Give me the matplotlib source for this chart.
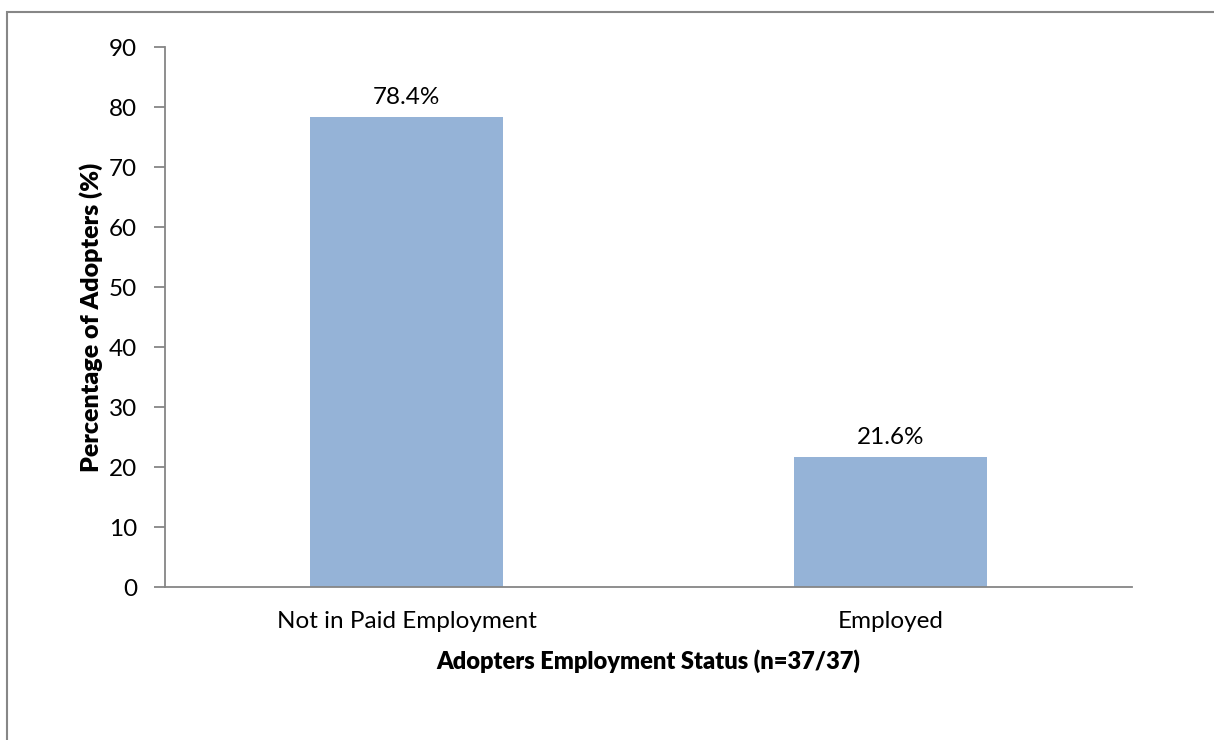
import matplotlib
matplotlib.use("Agg")
import matplotlib.pyplot as plt
from matplotlib.patches import Rectangle

categories = ["Not in Paid Employment", "Employed"]
percentages = [78.4, 21.6]
y_ticks = [0, 10, 20, 30, 40, 50, 60, 70, 80, 90]

plt.rcParams['font.family'] = ['Lato', 'DejaVu Sans']

fig = plt.figure(figsize=(12.14, 7.40), dpi=100)
fig.patch.set_facecolor('white')

# outer chart-area border
fig.patches.append(Rectangle((7 / 1214, -0.01), 1.05, 1 - 12 / 740 + 0.01,
                             transform=fig.transFigure, fill=False,
                             edgecolor='#878787', linewidth=1.5))

ax = fig.add_axes([165 / 1214, 1 - 587 / 740, (1132 - 165) / 1214, (587 - 47) / 740])

x = range(len(categories))
bars = ax.bar(x, percentages, width=0.4, color='#95B3D7', zorder=2)

for b, v in zip(bars, percentages):
    ax.text(b.get_x() + b.get_width() / 2, v + 1.5, f"{v:.1f}%",
            ha='center', va='bottom', fontsize=17.5, color='black')

ax.set_xlim(-0.5, 1.5)
ax.set_ylim(0, 90)
ax.set_yticks(y_ticks)
ax.set_yticklabels([str(t) for t in y_ticks], fontsize=17.5)
ax.set_xticks(list(x))
ax.set_xticklabels(categories, fontsize=17.5)
ax.tick_params(axis='x', length=0, pad=17)
ax.tick_params(axis='y', length=8, width=1.3, color='#868686', pad=12)

for s in ['top', 'right']:
    ax.spines[s].set_visible(False)
for s in ['left', 'bottom']:
    ax.spines[s].set_color('#868686')
    ax.spines[s].set_linewidth(1.3)

ax.set_ylabel("Percentage of Adopters (%)", fontsize=18, fontweight='heavy', labelpad=4)
ax.set_xlabel("Adopters Employment Status (n=37/37)", fontsize=17, fontweight='heavy', labelpad=13)

fig.savefig("out.png", dpi=100, facecolor='white')
